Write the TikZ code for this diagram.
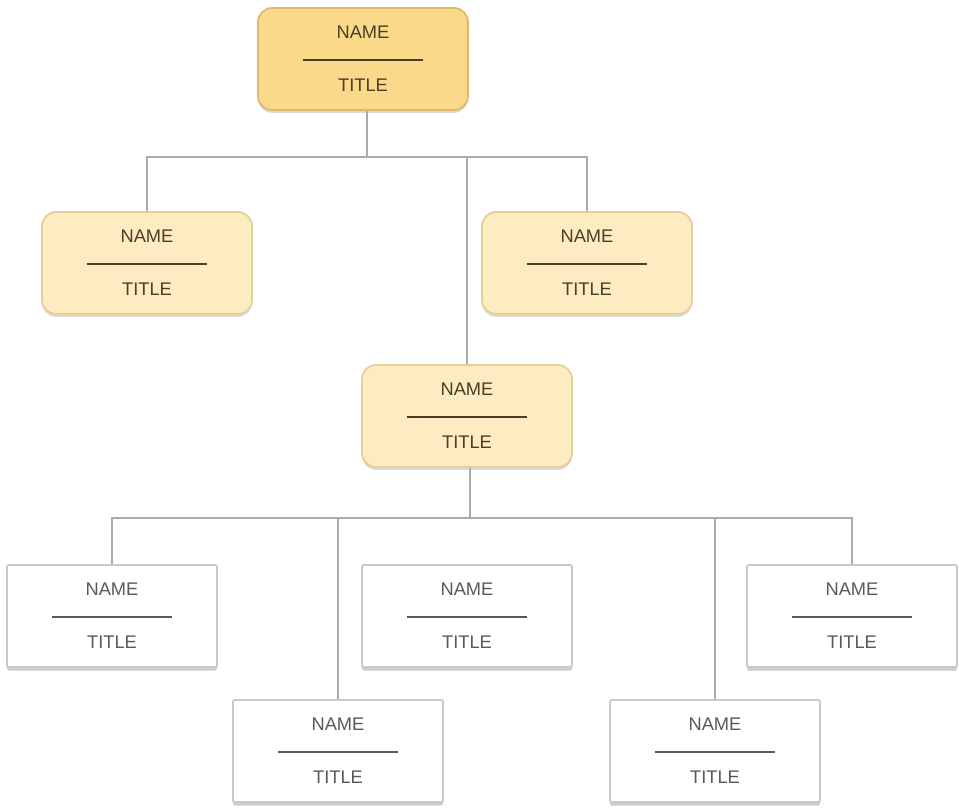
\documentclass[tikz,border=0pt]{standalone}
\usepackage{fontspec}
\setmainfont{Liberation Sans}
\usetikzlibrary{shadows}

\definecolor{headfill}{HTML}{FBD98A}
\definecolor{headline}{HTML}{DDB867}
\definecolor{subfill}{HTML}{FDEBC2}
\definecolor{subline}{HTML}{E6CE98}
\definecolor{staffline}{HTML}{C9C9C9}
\definecolor{linkgray}{HTML}{ABABAB}
\definecolor{inktext}{HTML}{4A3E24}

\newcommand{\nametitle}{NAME\\[0.6pt]\rule{3cm}{1pt}\\[7pt]TITLE}

\begin{document}
\begin{tikzpicture}[x=0.025cm,y=-0.025cm,
    box/.style={minimum width=5.25cm,minimum height=2.55cm,inner sep=0pt,
      align=center,font=\fontsize{13}{15}\selectfont},
    head/.style={box,rounded corners=10pt,draw=headline,fill=headfill,
      line width=1.2pt,text=inktext,
      drop shadow={shadow xshift=0pt,shadow yshift=-2pt,opacity=0.3}},
    sub/.style={head,draw=subline,fill=subfill},
    staff/.style={box,rounded corners=1pt,draw=staffline,fill=white,
      line width=1.2pt,text=black!65,
      drop shadow={shadow xshift=0pt,shadow yshift=-2.5pt,opacity=0.4}},
    link/.style={draw=linkgray,line width=1.8pt}]
  \useasboundingbox (0,0) rectangle (959,809);

  \node[head] (top) at (363,59) {\nametitle};
  \node[sub] (lft) at (147,263) {\nametitle};
  \node[sub] (rgt) at (587,263) {\nametitle};
  \node[sub] (mid) at (467,416) {\nametitle};

  \node[staff] (a) at (112,616) {\nametitle};
  \node[staff] (c) at (467,616) {\nametitle};
  \node[staff] (e) at (852,616) {\nametitle};
  \node[staff] (b) at (338,751) {\nametitle};
  \node[staff] (d) at (715,751) {\nametitle};

  % upper bus
  \coordinate (t1) at (367,157);
  \draw[link] (top.south -| t1) -- (t1);
  \draw[link] (lft.north) |- (t1) -| (rgt.north);
  \draw[link] (mid.north) -- (mid.north |- t1);

  % lower bus
  \coordinate (t2) at (470,518);
  \draw[link] (mid.south -| t2) -- (t2);
  \draw[link] (a.north) |- (t2) -| (e.north);
  \draw[link] (b.north) -- (b.north |- t2);
  \draw[link] (d.north) -- (d.north |- t2);
\end{tikzpicture}
\end{document}
